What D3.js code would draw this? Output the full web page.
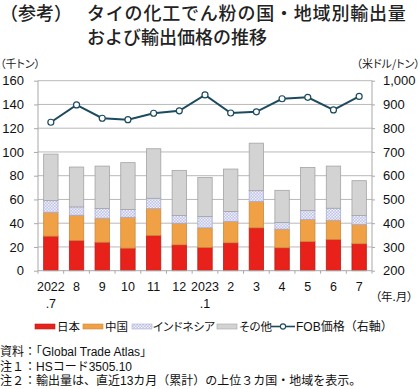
<!DOCTYPE html>
<html><head><meta charset="utf-8">
<script src="https://cdn.jsdelivr.net/npm/d3@7/dist/d3.min.js"></script>
<style>
body{margin:0;background:#fff;}
svg{display:block;font-family:"Liberation Sans","Noto Sans CJK JP",sans-serif;}
.jp{font-family:"Noto Sans CJK JP",sans-serif;}
.mix{font-family:"Liberation Sans","Noto Sans CJK JP",sans-serif;}
.palt{font-family:"Noto Sans CJK JP",sans-serif;font-feature-settings:"palt";}
</style></head><body>
<svg id="c" width="420" height="389"></svg>
<script>
const months = ["2022\n.7","8","9","10","11","12","2023\n.1","2","3","4","5","6","7"];
const japan = [29.1,25.5,24.0,19.0,29.7,21.8,19.6,23.5,36.1,19.3,24.6,26.3,22.7];
const china = [20.1,21.2,20.2,26.0,22.6,18.2,16.5,17.9,22.1,15.7,18.5,16.2,16.2];
const indonesia = [9.8,7.0,8.1,6.5,8.7,6.4,9.5,8.4,9.2,5.6,7.5,10.1,7.5];
const others = [39.2,33.6,35.8,39.5,41.7,38.1,33.0,35.8,40.0,27.1,36.4,35.5,29.4];
const fob = [825,898,842,836,863,873,940,864,869,924,930,877,934];
const leftTicks = [0,20,40,60,80,100,120,140,160];
const rightTicks = [200,300,400,500,600,700,800,900,1000];
const seriesNames = ["日本","中国","インドネシア","その他"];

const svg = d3.select("#c");
const defs = svg.append("defs");
const pat = defs.append("pattern").attr("id","dots").attr("patternUnits","userSpaceOnUse")
  .attr("width",3).attr("height",3);
pat.append("rect").attr("width",3).attr("height",3).attr("fill","#bfc3e6");
pat.append("rect").attr("x",0).attr("y",0).attr("width",1.5).attr("height",1.5).attr("fill","#f2f3fb");
pat.append("rect").attr("x",1.5).attr("y",1.5).attr("width",1.5).attr("height",1.5).attr("fill","#eceefa");

const X0=38, X1=372, YT=80.7, YB=270.7;
const x = d3.scaleBand().domain(months).range([X0,X1]).paddingInner(0.44).paddingOuter(0.22);
const yL = d3.scaleLinear().domain([0,160]).range([YB,YT]);
const yR = d3.scaleLinear().domain([200,1000]).range([YB,YT]);

// gridlines
svg.append("g").selectAll("line").data(leftTicks.slice(1)).join("line")
  .attr("x1",X0).attr("x2",X1).attr("y1",d=>yL(d)).attr("y2",d=>yL(d))
  .attr("stroke","#b9b9b9").attr("stroke-width",1);

// left axis
const gL = svg.append("g").attr("transform",`translate(${X0},0)`)
  .call(d3.axisLeft(yL).tickValues(leftTicks).tickSize(4).tickPadding(10));
gL.selectAll("text").attr("font-size","13px").attr("fill","#111");
gL.selectAll("line,path").attr("stroke","#a8a8a8");
gL.select(".domain").attr("d",`M0,${YB}V${YT}`);

// right axis
const gR = svg.append("g").attr("transform",`translate(${X1},0)`)
  .call(d3.axisRight(yR).tickValues(rightTicks).tickSize(3).tickPadding(8).tickFormat(d3.format(",")));
gR.selectAll("text").attr("font-size","13px").attr("fill","#111");
gR.selectAll("line,path").attr("stroke","#a8a8a8");
gR.select(".domain").attr("d",`M0,${YB}V${YT}`);

// stacked bars
const rows = months.map((m,i)=>({m, 日本:japan[i], 中国:china[i], インドネシア:indonesia[i], その他:others[i]}));
const stack = d3.stack().keys(seriesNames)(rows);
const fills = {"日本":"#e8211b","中国":"#f0a146","インドネシア":"url(#dots)","その他":"#d3d3d3"};
const strokes = {"日本":"#b5201a","中国":"#c98a40","インドネシア":"#a8acd0","その他":"#a4a4a4"};
stack.forEach(s=>{
  svg.append("g").selectAll("rect").data(s).join("rect")
    .attr("x",d=>x(d.data.m)).attr("width",x.bandwidth())
    .attr("y",d=>yL(d[1])).attr("height",d=>yL(d[0])-yL(d[1]))
    .attr("fill",fills[s.key]).attr("stroke",strokes[s.key]).attr("stroke-width",0.8);
});

// bottom axis
const bTicks = d3.range(months.length+1).map(i=>X0 + i*(X1-X0)/months.length);
svg.append("line").attr("x1",X0).attr("x2",X1).attr("y1",YB).attr("y2",YB).attr("stroke","#a8a8a8");
svg.append("g").selectAll("line").data(bTicks).join("line")
  .attr("x1",d=>d).attr("x2",d=>d).attr("y1",YB).attr("y2",YB+3).attr("stroke","#a8a8a8");
const xl = svg.append("g").selectAll("text").data(months).join("text")
  .attr("x",d=>x(d)+x.bandwidth()/2).attr("y",291).attr("text-anchor","middle")
  .attr("font-size","12.5px").attr("fill","#111");
xl.each(function(d){
  const parts = d.split("\n");
  const t = d3.select(this);
  parts.forEach((p,k)=>t.append("tspan").attr("x",t.attr("x")).attr("dy",k?17:0).text(p));
});
svg.append("text").attr("class","palt").attr("x",413).attr("y",301).attr("text-anchor","end")
  .attr("font-size","11.5px").attr("fill","#111").text("（年.月）");

// FOB line
const line = d3.line().x((d,i)=>x(months[i])+x.bandwidth()/2).y(d=>yR(d));
svg.append("path").datum(fob).attr("d",line).attr("fill","none").attr("stroke","#1c4a60").attr("stroke-width",2);
svg.append("g").selectAll("circle").data(fob).join("circle")
  .attr("cx",(d,i)=>x(months[i])+x.bandwidth()/2).attr("cy",d=>yR(d)).attr("r",3)
  .attr("fill","#fff").attr("stroke","#1c4a60").attr("stroke-width",1.2);

// titles
svg.append("text").attr("class","jp").attr("x",0).attr("y",20).attr("font-size","18px").attr("font-weight",500).attr("fill","#222").text("（参考）");
svg.append("text").attr("class","jp").attr("x",87).attr("y",20).attr("font-size","18px").attr("font-weight",500).attr("fill","#222")
  .attr("letter-spacing","0.8px").text("タイの化工でん粉の国・地域別輸出量");
svg.append("text").attr("class","jp").attr("x",87).attr("y",44).attr("font-size","18px").attr("font-weight",500).attr("fill","#222").text("および輸出価格の推移");
svg.append("text").attr("class","palt").attr("x",0).attr("y",68).attr("font-size","11px").attr("fill","#222").text("（千トン）");
svg.append("text").attr("class","palt").attr("x",420).attr("y",68).attr("text-anchor","end").attr("font-size","11px").attr("fill","#222").text("（米ドル/トン）");

// legend
const lg = svg.append("g");
const legendItems = [
  {k:"日本",sx:35,tx:57},{k:"中国",sx:83,tx:105},{k:"インドネシア",sx:132,tx:153},{k:"その他",sx:217,tx:239}
];
legendItems.forEach(it=>{
  lg.append("rect").attr("x",it.sx).attr("y",324).attr("width",20).attr("height",5)
    .attr("fill",fills[it.k]).attr("stroke",strokes[it.k]).attr("stroke-width",0.6);
  lg.append("text").attr("class","palt").attr("x",it.tx).attr("y",330.5).attr("font-size","11.5px").attr("fill","#111").text(it.k);
});
lg.append("line").attr("x1",271).attr("x2",295).attr("y1",326.5).attr("y2",326.5).attr("stroke","#1c4a60").attr("stroke-width",1.6);
lg.append("circle").attr("cx",283).attr("cy",326.5).attr("r",2.6).attr("fill","#fff").attr("stroke","#1c4a60").attr("stroke-width",1.1);
lg.append("text").attr("class","mix").attr("x",296).attr("y",330.5).attr("font-size","12px").attr("fill","#111")
  .text("FOB価格（右軸）");

// notes
const notes = ["資料：「Global Trade Atlas」","注１：HSコード3505.10","注２：輸出量は、直近13カ月（累計）の上位３カ国・地域を表示。"];
svg.append("g").selectAll("text").data(notes).join("text").attr("class","mix")
  .attr("x",0).attr("y",(d,i)=>356+i*14.5).attr("font-size","12px").attr("fill","#111").text(d=>d);
</script>
</body></html>
